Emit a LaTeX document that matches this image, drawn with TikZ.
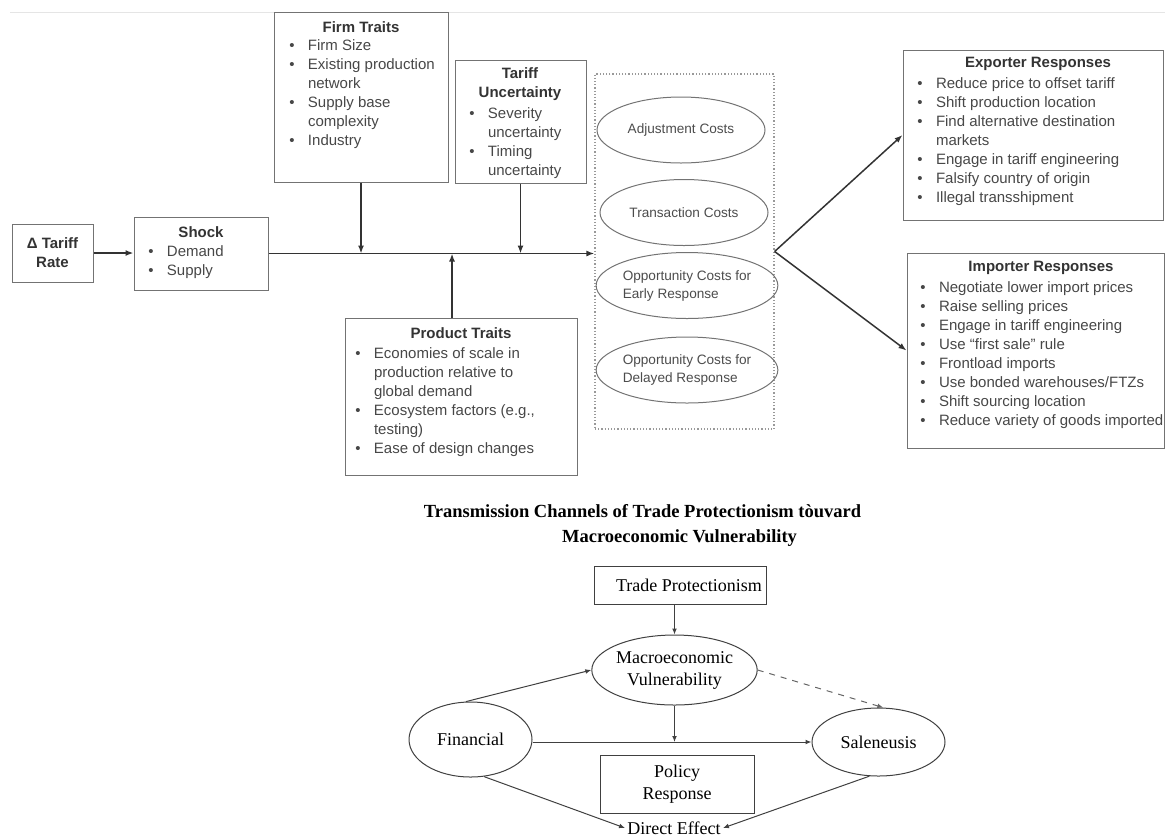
\documentclass[tikz,border=0pt]{standalone}
\usepackage{fontspec}
\setmainfont{Liberation Sans}
\newfontfamily\serifface{Liberation Serif}
\usetikzlibrary{arrows.meta,shapes.geometric}

\newcommand{\bl}{\makebox[9.3pt][l]{\textbullet}}
\newcommand{\cont}{\hspace*{9.3pt}}

\begin{document}
\begin{tikzpicture}[x=0.5pt,y=-0.5pt,
        frame/.style={draw=black!55,line width=0.5pt,inner sep=0pt},
        head/.style={font=\fontsize{7.5}{9.5}\selectfont\bfseries,text=black!80,align=center,inner sep=0pt},
        items/.style={font=\fontsize{7.5}{9.5}\selectfont,text=black!72,align=left,anchor=north west,inner sep=0pt},
        cost/.style={ellipse,draw=black!55,line width=0.5pt,minimum width=84pt,minimum height=33pt,inner sep=0pt,
            font=\fontsize{6.8}{9}\selectfont,text=black!70,align=left},
        flow/.style={-{Latex[length=4pt,width=3pt]},line width=0.75pt,draw=black!80},
        sbox/.style={draw=black!75,line width=0.5pt,inner sep=0pt,font=\serifface\fontsize{9}{11}\selectfont,align=center},
        sell/.style={ellipse,draw=black!75,line width=0.5pt,inner sep=0pt,font=\serifface\fontsize{9}{11}\selectfont,align=center},
        link/.style={-{Latex[length=3pt,width=2.4pt]},line width=0.5pt,draw=black!75}]
    \useasboundingbox (0,0) rectangle (1165,836);
    \draw[black!10] (10,12) -- (1165,12);

    % upper chart: boxes
    \node[frame,head,minimum width=40.5pt,minimum height=29pt] (tariff) at (52.5,253) {Δ Tariff\\Rate};
    \node[frame,minimum width=67pt,minimum height=36.5pt] (shock) at (201,253.5) {};
    \node[head] (shock-h) at (201,232) {Shock};
    \node[items] (shock-l) at (148,245) {\bl Demand\\\bl Supply};

    \node[frame,minimum width=87pt,minimum height=85pt] (firm) at (361,97) {};
    \node[head] (firm-h) at (361,27) {Firm Traits};
    \node[items] (firm-l) at (289,39) {\bl Firm Size\\\bl Existing production\\\cont network\\\bl Supply base\\\cont complexity\\\bl Industry};

    \node[frame,minimum width=65.5pt,minimum height=61.5pt] (unc) at (520.5,121.5) {};
    \node[head] (unc-h) at (520,84.5) {Tariff\\Uncertainty};
    \node[items] (unc-l) at (469,107) {\bl Severity\\\cont uncertainty\\\bl Timing\\\cont uncertainty};

    \node[frame,minimum width=116pt,minimum height=78.5pt] (prod) at (461,396.5) {};
    \node[head] (prod-h) at (461,333) {Product Traits};
    \node[items] (prod-l) at (355,347) {\bl Economies of scale in\\\cont production relative to\\\cont global demand\\\bl Ecosystem factors (e.g.,\\\cont testing)\\\bl Ease of design changes};

    % cost channels
    \node[draw=black!40,densely dotted,line width=0.6pt,minimum width=89.5pt,minimum height=177.5pt] (costs) at (684.5,251.5) {};
    \foreach \name/\cx/\cy/\txt in {adj/681/130/Adjustment Costs, trans/684/212.5/Transaction Costs,
            early/687/285.5/{Opportunity Costs for\\Early Response}, late/687/370/{Opportunity Costs for\\Delayed Response}} {
        \node[cost] (\name) at (\cx,\cy) {\txt};
    }

    \node[frame,minimum width=130pt,minimum height=85pt] (exp) at (1033,135) {};
    \node[head] (exp-h) at (1038,64) {Exporter Responses};
    \node[items] (exp-l) at (917,77) {\bl Reduce price to offset tariff\\\bl Shift production location\\\bl Find alternative destination\\\cont markets\\\bl Engage in tariff engineering\\\bl Falsify country of origin\\\bl Illegal transshipment};

    \node[frame,minimum width=128.5pt,minimum height=97.5pt] (imp) at (1035.5,350.5) {};
    \node[head] (imp-h) at (1041,268) {Importer Responses};
    \node[items] (imp-l) at (920,281) {\bl Negotiate lower import prices\\\bl Raise selling prices\\\bl Engage in tariff engineering\\\bl Use “first sale” rule\\\bl Frontload imports\\\bl Use bonded warehouses/FTZs\\\bl Shift sourcing location\\\bl Reduce variety of goods imported};

    % upper chart: arrows
    \draw[flow] (tariff.east) -- (shock.west |- tariff.east);
    \draw[flow] (shock.east) -- (shock.east -| costs.west);
    \draw[flow] (firm.south) -- (firm.south |- shock.east);
    \draw[flow] (unc.south) -- (unc.south |- shock.east);
    \draw[flow] ([xshift=-4.5pt]prod.north) -- ([xshift=-4.5pt]prod.north |- shock.east);
    \draw[flow] (costs.east) -- (exp.west);
    \draw[flow] (costs.east) -- (imp.west);

    % lower chart
    \node[font=\serifface\bfseries\fontsize{9.25}{13}\selectfont] (title-a) at (642.5,511) {Transmission Channels of Trade Protectionism tòuvard};
    \node[font=\serifface\bfseries\fontsize{9.25}{13}\selectfont] (title-b) at (679.5,538) {Macroeconomic Vulnerability};

    \node[sbox,minimum width=86pt,minimum height=19pt] (trade) at (680,585) {\hspace*{9pt}Trade Protectionism};
    \node[sell,minimum width=80.5pt,minimum height=35pt] (macro) at (674.5,670) {Macroeconomic\\Vulnerability};
    \node[sell,minimum width=61.5pt,minimum height=37.5pt] (fin) at (470.5,739.5) {Financial};
    \node[sell,minimum width=66.5pt,minimum height=34pt] (sal) at (878.5,742) {Saleneusis};
    \node[sbox,minimum width=77pt,minimum height=29pt] (policy) at (677,784) {Policy\\Response};
    \node[font=\serifface\fontsize{9}{11}\selectfont,inner sep=1pt] (direct) at (674,828) {Direct Effect};

    \draw[link] (trade.south -| macro.north) -- (macro.north);
    \draw[link] (fin.97) -- (macro.west);
    \draw[link] (macro.south) -- (macro.south |- sal.west);
    \draw[link] (fin.east |- sal.west) -- (sal.west);
    \draw[link,dashed,draw=black!60] (macro.east) -- (sal.82);
    \draw[link] (fin.-70) -- (direct.west);
    \draw[link] (sal.-105) -- (direct.east);
\end{tikzpicture}
\end{document}
